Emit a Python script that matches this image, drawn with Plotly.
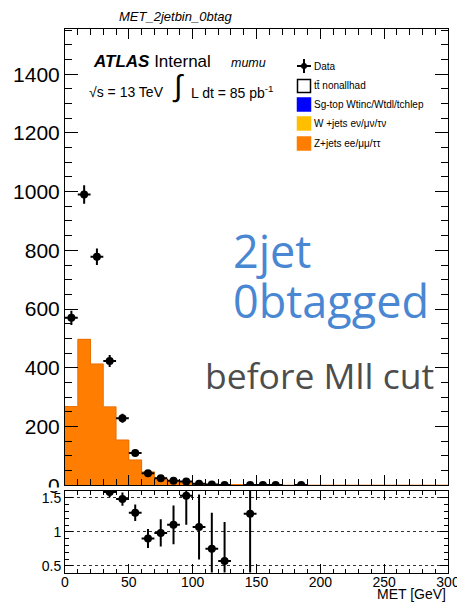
import math
import plotly.graph_objects as go

# ---- histogram content (10 GeV bins starting at 0) ----
bin_lo = list(range(0, 300, 10))
data_counts = [570, 990, 778, 423, 228, 110, 41, 24, 15, 13, 5, 2, 1, 0, 1, 1, 1, 0, 1]
zjets = [268, 497, 413, 267, 154, 86, 45.5, 24.4, 13.6, 8.5, 4.67, 2.67, 1.75, 0.9, 0.79]
wjets = [0.0] * len(zjets)
sgtop = [0.0] * len(zjets)
ttbar = [0.0] * len(zjets)

x_ticks = [0, 50, 100, 150, 200, 250, 300]
y_ticks = [0, 200, 400, 600, 800, 1000, 1200, 1400]
r_ticks = [0.5, 1, 1.5]

legend_labels = ["Data", "t\u0074\u0304 nonallhad", "Sg-top Wtinc/Wtdl/tchlep",
                 "W +jets e\u03bd/\u03bc\u03bd/\u03c4\u03bd", "Z+jets ee/\u03bc\u03bc/\u03c4\u03c4"]
legend_colors = [None, "white", "#0000ff", "#ffbf00", "#ff7d00"]

# ---- derived quantities ----
nb = len(bin_lo)
mc_total = [0.0] * nb
for comp in (zjets, wjets, sgtop, ttbar):
    for i, v in enumerate(comp):
        mc_total[i] += v
data_full = data_counts + [0] * (nb - len(data_counts))
centers = [b + 5 for b in bin_lo]

d_x, d_y, d_err = [], [], []
for c, n in zip(centers, data_full):
    if n > 0:
        d_x.append(c)
        d_y.append(n)
        d_err.append(math.sqrt(n))

r_x, r_y, r_err = [], [], []
for c, n, m in zip(centers, data_full, mc_total):
    if n > 0 and m > 0:
        r_x.append(c)
        r_y.append(n / m)
        r_err.append(math.sqrt(n) / m)

W, H = 457, 604
def px(x):
    return x / W
def py(y):
    return 1 - y / H

ORANGE = "#ff7d00"
FONT = "Liberation Sans, Arial, sans-serif"

fig = go.Figure()

# stacked MC (Z+jets dominates)
fig.add_trace(go.Bar(x=centers, y=zjets + [0] * (nb - len(zjets)), width=10,
                     marker=dict(color=ORANGE, line=dict(width=0)),
                     xaxis="x2", yaxis="y", showlegend=False))
fig.add_trace(go.Scatter(x=[0] + [b + 10 for b in bin_lo], y=[mc_total[0]] + mc_total,
                         mode="lines", line=dict(color="#e86f00", width=1, shape="vh"),
                         xaxis="x2", yaxis="y", showlegend=False, hoverinfo="skip"))

# data points
fig.add_trace(go.Scatter(x=d_x, y=d_y, mode="markers",
                         marker=dict(color="black", size=8),
                         error_x=dict(type="constant", value=5, color="black", thickness=2, width=0),
                         error_y=dict(type="data", array=d_err, color="black", thickness=2, width=0),
                         xaxis="x2", yaxis="y", showlegend=False))

# ratio points
fig.add_trace(go.Scatter(x=r_x, y=r_y, mode="markers",
                         marker=dict(color="black", size=8),
                         error_x=dict(type="constant", value=5, color="black", thickness=2, width=0),
                         error_y=dict(type="data", array=r_err, color="black", thickness=2, width=0),
                         xaxis="x", yaxis="y2", showlegend=False))

xdom = [px(65), px(448)]
axis_common = dict(showline=True, linecolor="black", linewidth=1, mirror="ticks",
                   ticks="inside", tickcolor="black", zeroline=False, showgrid=False,
                   automargin=False)

fig.update_layout(
    width=W, height=H, margin=dict(l=0, r=0, t=0, b=0),
    paper_bgcolor="white", plot_bgcolor="white",
    bargap=0, barmode="overlay",
    font=dict(family=FONT, color="black"),
    xaxis=dict(domain=xdom, range=[0, 300], anchor="y2", tickvals=x_ticks,
               ticklen=9, tickfont=dict(size=14), ticklabeloverflow="allow",
               ticklabelstandoff=-3,
               minor=dict(dtick=10, ticklen=4, ticks="inside", tickcolor="black"),
               **axis_common),
    yaxis2=dict(domain=[py(572.6), py(491)], range=[0.4, 1.6], anchor="x",
                tickvals=r_ticks, ticktext=["0.5", "1", "1.5"], ticklen=8,
                tickfont=dict(size=14),
                minor=dict(dtick=0.1, tick0=0, ticklen=4, ticks="inside", tickcolor="black"),
                **{k: v for k, v in axis_common.items() if k != "showgrid"},
                showgrid=True, gridcolor="#333333", griddash="dot", gridwidth=1),
    xaxis2=dict(domain=xdom, range=[0, 300], anchor="y", matches="x",
                tickvals=x_ticks, showticklabels=False, ticklen=10,
                minor=dict(dtick=10, ticklen=6, ticks="inside", tickcolor="black"),
                **axis_common),
    yaxis=dict(domain=[py(485.2), py(29)], range=[0, 1554], anchor="x2",
               tickvals=y_ticks, ticklen=13, tickfont=dict(size=21),
               minor=dict(dtick=50, ticklen=7, ticks="inside", tickcolor="black"),
               **axis_common),
)

# cover the lower half of the main pad's "0" label (the ratio pad overlaps it)
fig.add_shape(type="rect", xref="paper", yref="paper",
              x0=0, x1=px(63), y0=py(491), y1=py(487.5),
              fillcolor="white", line=dict(width=0), layer="above")

ann = []
def text(x, y, s, size, xanchor="left", color="black", family=FONT):
    ann.append(dict(x=px(x), y=py(y), xref="paper", yref="paper", text=s,
                    showarrow=False, xanchor=xanchor, yanchor="middle",
                    font=dict(size=size, color=color, family=family)))

text(176, 17, "<i>MET_2jetbin_0btag</i>", 13, xanchor="center")
text(91, 62, "<b><i>ATLAS</i></b> Internal", 17)
text(229, 63, "<i>mumu</i>", 12.5)
text(87, 92, "\u221as = 13 TeV", 14)
text(170, 86, "\u222b", 30)
text(189, 92, "L dt = 85 pb<sup>-1</sup>", 14)
text(448, 594, "MET [GeV]", 14, xanchor="right")

# large labels
text(231, 251, "2jet", 45, color="#4a87d3", family="Open Sans, sans-serif")
text(231, 300, "0btagged", 45, color="#4a87d3", family="Open Sans, sans-serif")
text(203, 375, "before Mll cut", 35.5, color="#4d4d4d", family="Open Sans, sans-serif")

# legend
leg_y = [66, 86, 104.5, 123.5, 143.5]
for lab, col, yy in zip(legend_labels, legend_colors, leg_y):
    text(312, yy, lab, 10)
    if col is None:
        fig.add_shape(type="line", xref="paper", yref="paper", x0=px(297), x1=px(311),
                      y0=py(yy), y1=py(yy), line=dict(color="black", width=2))
        fig.add_shape(type="line", xref="paper", yref="paper", x0=px(304), x1=px(304),
                      y0=py(yy - 7), y1=py(yy + 7), line=dict(color="black", width=2))
        fig.add_shape(type="circle", xref="paper", yref="paper", x0=px(301), x1=px(307),
                      y0=py(yy + 3), y1=py(yy - 3), fillcolor="black", line=dict(width=0))
    else:
        fig.add_shape(type="rect", xref="paper", yref="paper", x0=px(297.5), x1=px(310.5),
                      y0=py(yy + 6.5), y1=py(yy - 6.5), fillcolor=col,
                      line=dict(color="black" if col == "white" else col, width=1.5))

fig.update_layout(annotations=ann)
fig.write_html("out.html")
